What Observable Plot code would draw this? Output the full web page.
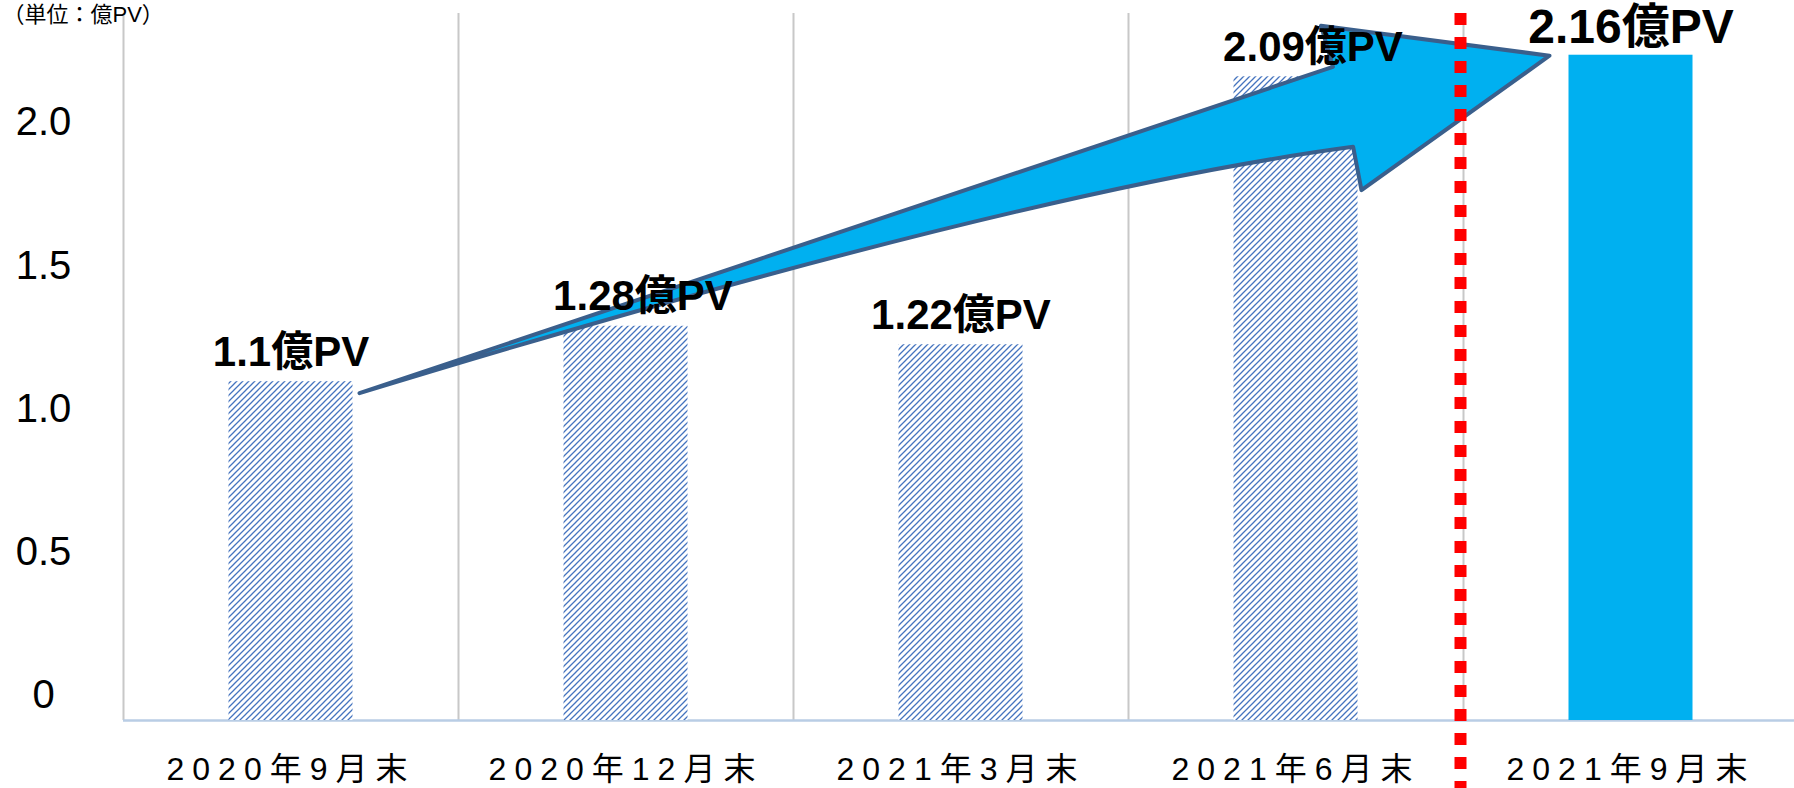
<!DOCTYPE html>
<html><head><meta charset="utf-8">
<script src="https://cdn.jsdelivr.net/npm/d3@7"></script>
<script src="https://cdn.jsdelivr.net/npm/@observablehq/plot@0.6"></script>
<style>
html,body{margin:0;padding:0;background:#fff;overflow:hidden}
#chart svg{display:block}
#chart [aria-label="x-axis tick label"] text{letter-spacing:8px}
</style></head><body><div id="chart"></div>
<script>
// ---- data ----
const categories = ["2020年9月末", "2020年12月末", "2021年3月末", "2021年6月末", "2021年9月末"];
const values = [1.1, 1.28, 1.22, 2.09, 2.16];
const yTicks = [0, 0.5, 1.0, 1.5, 2.0];
const yTickLabels = ["0", "0.5", "1.0", "1.5", "2.0"];
const unitLabel = "（単位：億PV）";
const labelSuffix = "億PV";

const rows = categories.map((c, i) => ({c, v: values[i], i, current: i === categories.length - 1}));

const FONT = '"Liberation Sans", Arial, "Noto Sans CJK JP", sans-serif';
const W = 1794, H = 788;
const ML = 123, MR = -4, MT = 13, MB = 68;
const PX_PER_UNIT = 308;
const yTop = (H - MB - MT) / PX_PER_UNIT;
const BAND = (W - ML - MR) / categories.length;
const BAR_W = 124;
const INSET = (BAND - BAR_W) / 2;

// hatch pattern definition
function hatchDefs() {
  const defs = d3.create("svg:defs");
  const p = defs.append("pattern").attr("id", "hatch")
    .attr("patternUnits", "userSpaceOnUse").attr("width", 6).attr("height", 6);
  p.append("rect").attr("width", 6).attr("height", 6).attr("fill", "#fff");
  p.append("path").attr("d", "M-1,1L1,-1M0,6L6,0M5,7L7,5")
    .attr("stroke", "#4574bf").attr("stroke-width", 1.3);
  return defs.node();
}

// block arrow from first bar to last bar, positioned via the scales
function growthArrow(index, scales, vals, dims) {
  const x = scales.x, y = scales.y;
  const bw = x.bandwidth ? x.bandwidth() : BAND;
  const tail = [x(categories[0]) + bw - INSET + 7, y(values[0]) + 12];
  const tip = [x(categories[categories.length - 1]) + INSET - 19, y(values[values.length - 1]) + 1];
  const P = (u, v) => [tail[0] + u * (tip[0] - tail[0]), tail[1] + v * (tip[1] - tail[1])];
  const upperInner = P(0.818, 0.967);
  const upperBarb = P(0.808, 1.089);
  const lowerBarb = P(0.842, 0.602);
  const lowerInner = P(0.835, 0.730);
  const ctrl = P(0.555, 0.599);
  const d = `M${tail}L${upperInner}L${upperBarb}L${tip}L${lowerBarb}L${lowerInner}Q${ctrl} ${tail}Z`;
  const g = d3.create("svg:g");
  g.append("path").attr("d", d)
    .attr("fill", "#00b0f0").attr("stroke", "#3a5f8c")
    .attr("stroke-width", 4).attr("stroke-linejoin", "round").attr("stroke-linecap", "round");
  return g.node();
}

const shifted = d => d.i === 1 || d.i === 3;   // labels nudged right in the original

const chart = Plot.plot({
  width: W, height: H,
  marginLeft: ML, marginRight: MR, marginTop: MT, marginBottom: MB,
  style: {fontFamily: FONT, background: "#fff", color: "#000"},
  x: {type: "band", domain: categories, padding: 0, label: null},
  y: {domain: [0, yTop], label: null, axis: null},
  marks: [
    hatchDefs,
    Plot.ruleX(categories, {x: d => d, dx: -BAND / 2, y1: 0, y2: yTop, stroke: "#c8c8c8", strokeWidth: 2}),
    Plot.ruleY([0], {stroke: "#b9cde5", strokeWidth: 2.5}),
    Plot.barY(rows, {filter: d => !d.current, x: "c", y: "v", fill: "url(#hatch)", insetLeft: INSET, insetRight: INSET}),
    Plot.barY(rows, {filter: d => d.current, x: "c", y: "v", fill: "#00b0f0", insetLeft: INSET, insetRight: INSET}),
    growthArrow,
    Plot.text(rows, {filter: d => !d.current && !shifted(d), x: "c", y: "v", text: d => `${d.v}${labelSuffix}`,
      lineAnchor: "bottom", dy: -16, fontSize: 42, fontWeight: "bold", fill: "#000"}),
    Plot.text(rows, {filter: d => !d.current && shifted(d), x: "c", y: "v", text: d => `${d.v}${labelSuffix}`,
      lineAnchor: "bottom", dy: -16, dx: 17, fontSize: 42, fontWeight: "bold", fill: "#000"}),
    Plot.text(rows, {filter: d => d.current, x: "c", y: "v", text: d => `${d.v}${labelSuffix}`,
      lineAnchor: "bottom", dy: -12, fontSize: 48, fontWeight: "bold", fill: "#000"}),
    Plot.text(yTicks, {y: d => 0.081 + 0.93 * d, text: (d, i) => yTickLabels[i],
      frameAnchor: "left", dx: -80, textAnchor: "middle", fontSize: 40, fill: "#000"}),
    Plot.axisX({tickSize: 0, tickPadding: 37, fontSize: 32, label: null, fill: "#000"}),
    Plot.ruleX([categories[categories.length - 1]], {x: d => d, dx: -BAND / 2 - 3, y1: yTop, y2: -MB / PX_PER_UNIT,
      stroke: "#ff0000", strokeWidth: 12, strokeDasharray: "12,12"}),
    Plot.text([unitLabel], {frameAnchor: "top-left", dx: -121, dy: -7, lineAnchor: "top", fontSize: 22, fill: "#000"})
  ]
});
document.getElementById("chart").appendChild(chart);
</script>
</body></html>
